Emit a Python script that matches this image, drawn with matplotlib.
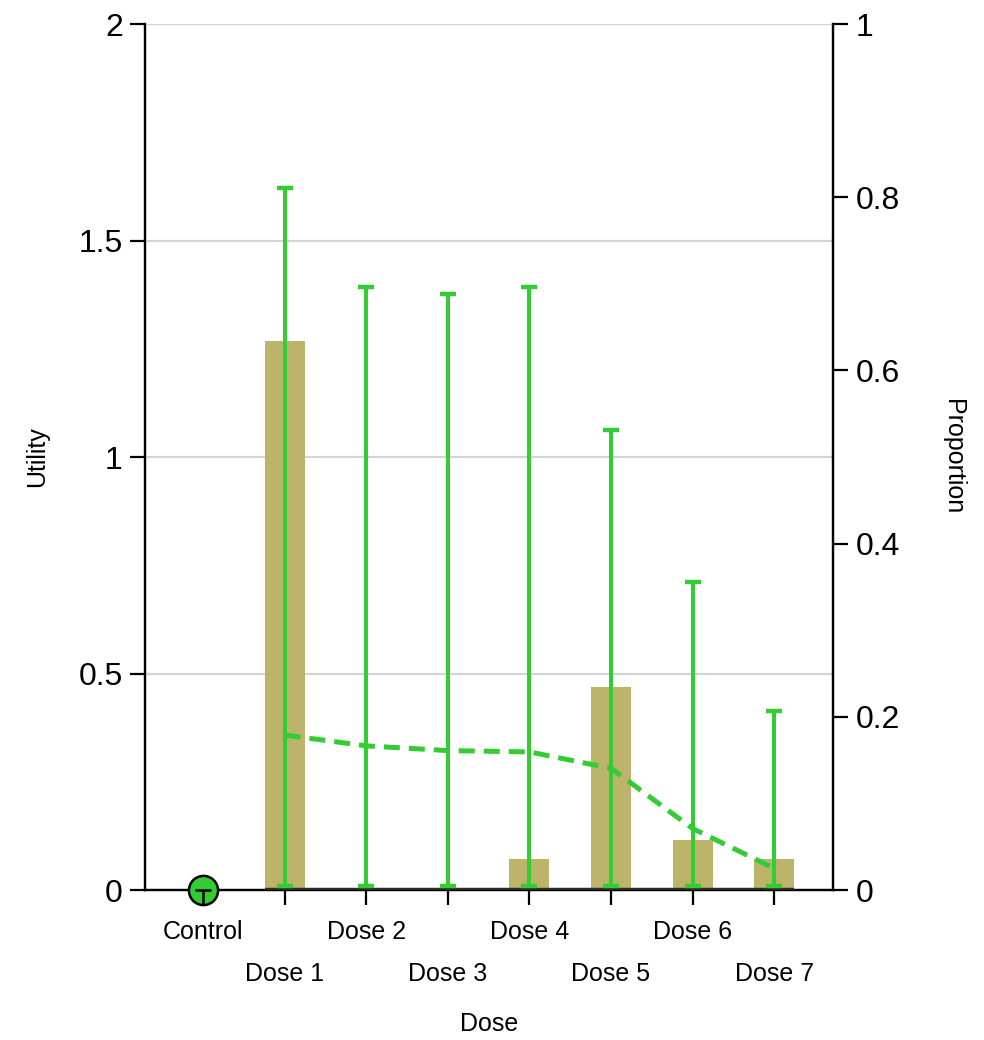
import matplotlib
matplotlib.use("Agg")
import matplotlib.pyplot as plt
import numpy as np

plt.rcParams['font.family'] = ['Liberation Sans', 'DejaVu Sans']

# Categories
categories = ["Control", "Dose 1", "Dose 2", "Dose 3", "Dose 4", "Dose 5", "Dose 6", "Dose 7"]

# Mean utility and interval bounds per dose (Control is a single point at 0)
utility_mean = [0.0, 0.358, 0.333, 0.322, 0.319, 0.281, 0.142, 0.050]
utility_low = [0.0, 0.01, 0.01, 0.01, 0.01, 0.01, 0.01, 0.01]
utility_high = [0.0, 1.622, 1.393, 1.376, 1.393, 1.062, 0.711, 0.414]

# Proportion of selections per dose
proportion = [0.0, 0.634, 0.0, 0.0, 0.036, 0.234, 0.058, 0.036]

utility_ticks = [0, 0.5, 1, 1.5, 2]
proportion_ticks = [0, 0.2, 0.4, 0.6, 0.8, 1]

green = "#33cc33"
bar_color = "#bdb46b"

fig = plt.figure(figsize=(9.84, 10.4), dpi=100)
ax_p = fig.add_axes([0.1474, 0.1442, 0.6992, 0.8327])
ax_u = ax_p.twinx()

x = np.arange(len(categories))
umax = utility_ticks[-1]

# Proportion axis (right) with bars and horizontal grid
ax_p.set_xlim(-0.71, 7.72)
ax_p.set_ylim(0, 1)
for t in utility_ticks[1:]:
    ax_p.axhline(t / umax, color="#d4d4d4", lw=1.6, zorder=0)
ax_p.bar(x[1:], proportion[1:], width=0.49, color=bar_color, zorder=2)
ax_p.yaxis.tick_right()
ax_p.yaxis.set_label_position("right")
ax_p.set_yticks(proportion_ticks)
ax_p.set_yticklabels(["0", "0.2", "0.4", "0.6", "0.8", "1"])

# Utility axis (left) with intervals and mean line
ax_u.set_ylim(0, umax)
ax_u.yaxis.tick_left()
ax_u.yaxis.set_label_position("left")
ax_u.set_yticks(utility_ticks)
ax_u.set_yticklabels(["0", "0.5", "1", "1.5", "2"])

ax_u.plot([x[1] - 0.245, x[-1] + 0.245], [0, 0], color="#2a2a2a", lw=3.2,
          solid_capstyle="butt", zorder=3)

mean = np.array(utility_mean[1:])
yerr = np.vstack([mean - np.array(utility_low[1:]), np.array(utility_high[1:]) - mean])
ax_u.errorbar(x[1:], mean, yerr=yerr, fmt="none", ecolor=green, elinewidth=2.9,
              capsize=6, capthick=3.2, zorder=4)
ax_u.plot(x[1:], mean, color=green, lw=3.6, ls=(0, (3.2, 1.8)), zorder=5)

# Control point with its zero-width interval
ax_u.plot([x[0]], [utility_mean[0]], "o", ms=21, mfc=green, mec="black", mew=1.8,
          zorder=6, clip_on=False)
ax_u.plot([x[0] - 0.1, x[0] + 0.1], [utility_mean[0], utility_mean[0]], color="black",
          lw=1.8, zorder=7, clip_on=False, solid_capstyle="butt")
ax_u.plot([x[0], x[0]], [-0.033, utility_mean[0]], color="black", lw=1.8, zorder=7,
          clip_on=False, solid_capstyle="butt")

for a in (ax_p, ax_u):
    a.spines["top"].set_visible(False)
    for s in ("left", "right", "bottom"):
        a.spines[s].set_linewidth(1.6)
        a.spines[s].set_color("black")

ax_u.tick_params(axis="y", length=11, width=1.6, labelsize=23, pad=5)
ax_p.tick_params(axis="y", length=11, width=1.6, labelsize=23, pad=5)

# Staggered category labels
ax_p.set_xticks(x[1:])
ax_p.set_xticklabels([])
ax_p.tick_params(axis="x", length=11, width=1.6)
for i, name in enumerate(categories):
    yoff = -0.049 if i % 2 == 0 else -0.097
    ax_p.text(x[i], yoff, name, transform=ax_p.get_xaxis_transform(),
              ha="center", va="center", fontsize=18)

ax_p.text(0.5, -0.155, "Dose", transform=ax_p.transAxes, ha="center",
          va="center", fontsize=18)
ax_u.set_ylabel("Utility", fontsize=18)
ax_u.yaxis.set_label_coords(-0.14, 0.5)
ax_p.set_ylabel("Proportion", fontsize=18, rotation=-90, va="center")
ax_p.yaxis.set_label_coords(1.175, 0.5)

fig.savefig("out.png", dpi=100)
